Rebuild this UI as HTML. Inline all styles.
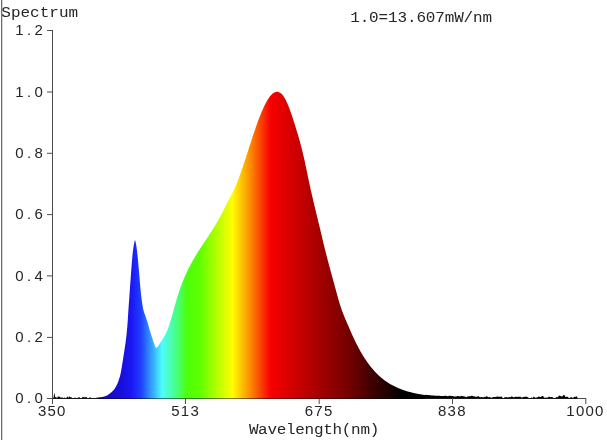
<!DOCTYPE html>
<html><head><meta charset="utf-8"><title>Spectrum</title>
<style>
html,body{margin:0;padding:0;background:#fff;}
body{width:607px;height:440px;overflow:hidden;position:relative;}
svg{position:absolute;left:0;top:0;display:block;}
text{fill:#262626;text-anchor:middle;}
text.m{font-family:"Liberation Mono",monospace;font-size:16px;}
text.d{font-family:"Liberation Sans",sans-serif;font-size:15px;}
</style></head><body>
<svg width="607" height="440" viewBox="0 0 607 440">
<defs><linearGradient id="g" gradientUnits="userSpaceOnUse" x1="52.5" y1="0" x2="586" y2="0"><stop offset="0.0000" stop-color="#000000"/><stop offset="0.0778" stop-color="#000000"/><stop offset="0.0834" stop-color="#060350"/><stop offset="0.0909" stop-color="#0e06a0"/><stop offset="0.1003" stop-color="#1209c0"/><stop offset="0.1172" stop-color="#150dd0"/><stop offset="0.1359" stop-color="#1812e2"/><stop offset="0.1490" stop-color="#1c18f6"/><stop offset="0.1659" stop-color="#1e40ff"/><stop offset="0.2051" stop-color="#4cfcff"/><stop offset="0.2390" stop-color="#48ff60"/><stop offset="0.2521" stop-color="#4cff08"/><stop offset="0.2765" stop-color="#60ff00"/><stop offset="0.3370" stop-color="#ffff00"/><stop offset="0.3683" stop-color="#fc9400"/><stop offset="0.4086" stop-color="#f80000"/><stop offset="0.4489" stop-color="#d40000"/><stop offset="0.5014" stop-color="#a40000"/><stop offset="0.5576" stop-color="#720000"/><stop offset="0.5951" stop-color="#440000"/><stop offset="0.6326" stop-color="#1c0000"/><stop offset="0.6570" stop-color="#000000"/></linearGradient></defs>
<rect x="0" y="0" width="607" height="440" fill="#fff"/>
<rect x="1" y="0" width="1" height="440" fill="#6e6e6e"/><rect x="2" y="0" width="1" height="440" fill="#d4d4d4"/>
<path d="M52.5,399.0 L52.5,398.30 L53.0,398.28 L53.5,397.71 L54.0,394.71 L54.5,392.85 L55.0,396.24 L55.5,397.46 L56.0,396.90 L56.5,397.46 L57.0,398.12 L57.5,397.45 L58.0,396.30 L58.5,396.14 L59.0,397.23 L59.5,396.72 L60.0,396.55 L60.5,397.60 L61.0,398.13 L61.5,397.52 L62.0,397.00 L62.5,397.52 L63.0,398.13 L63.5,398.18 L64.0,397.76 L64.5,397.40 L65.0,397.76 L65.5,398.18 L66.0,398.19 L66.5,397.78 L67.0,396.98 L67.5,396.50 L68.0,396.98 L68.5,397.78 L69.0,397.10 L69.5,396.30 L70.0,397.10 L70.5,397.40 L71.0,396.80 L71.5,397.40 L72.0,398.11 L72.5,398.28 L73.0,398.29 L73.5,398.24 L74.0,398.04 L74.5,397.64 L75.0,397.40 L75.5,397.64 L76.0,398.04 L76.5,398.24 L77.0,398.29 L77.5,398.26 L78.0,398.01 L78.5,397.35 L79.0,396.90 L79.5,397.35 L80.0,398.01 L80.5,398.26 L81.0,398.29 L81.5,398.20 L82.0,397.83 L82.5,397.12 L83.0,396.70 L83.5,397.12 L84.0,397.83 L84.5,397.28 L85.0,396.60 L85.5,397.28 L86.0,397.46 L86.5,396.90 L87.0,397.46 L87.5,398.12 L88.0,398.28 L88.5,398.19 L89.0,397.93 L89.5,397.52 L90.0,397.30 L90.5,397.52 L91.0,397.93 L91.5,398.19 L92.0,398.21 L92.5,398.19 L93.0,398.18 L93.5,398.15 L94.0,398.11 L94.5,398.05 L95.0,397.98 L95.5,397.89 L96.0,397.80 L96.5,397.74 L97.0,397.68 L97.5,397.62 L98.0,397.56 L98.5,397.50 L99.0,397.44 L99.5,397.37 L100.0,397.30 L100.5,397.23 L101.0,397.16 L101.5,397.09 L102.0,397.01 L102.5,396.92 L103.0,396.83 L103.5,396.72 L104.0,396.60 L104.5,396.45 L105.0,396.27 L105.5,396.08 L106.0,395.87 L106.5,395.64 L107.0,395.40 L107.5,395.14 L108.0,394.84 L108.5,394.52 L109.0,394.17 L109.5,393.80 L110.0,393.42 L110.5,393.02 L111.0,392.61 L111.5,392.19 L112.0,391.73 L112.5,391.25 L113.0,390.74 L113.5,390.18 L114.0,389.57 L114.5,388.90 L115.0,388.16 L115.5,387.36 L116.0,386.48 L116.5,385.54 L117.0,384.53 L117.5,383.45 L118.0,382.20 L118.5,380.81 L119.0,379.32 L119.5,377.78 L120.0,376.15 L120.5,374.11 L121.0,371.48 L121.5,368.58 L122.0,365.66 L122.5,362.62 L123.0,359.48 L123.5,356.26 L124.0,352.98 L124.5,349.69 L125.0,346.46 L125.5,343.09 L126.0,339.32 L126.5,334.94 L127.0,329.87 L127.5,324.00 L128.0,316.42 L128.5,308.53 L129.0,301.48 L129.5,294.59 L130.0,287.52 L130.5,280.42 L131.0,273.69 L131.5,267.03 L132.0,260.64 L132.5,255.07 L133.0,250.69 L133.5,247.01 L134.0,244.01 L134.5,241.38 L135.0,239.90 L135.5,241.38 L136.0,244.01 L136.5,247.06 L137.0,250.76 L137.5,254.96 L138.0,260.04 L138.5,265.72 L139.0,271.58 L139.5,277.30 L140.0,283.38 L140.5,289.25 L141.0,294.06 L141.5,298.19 L142.0,301.98 L142.5,305.32 L143.0,308.12 L143.5,310.30 L144.0,312.03 L144.5,313.49 L145.0,314.83 L145.5,316.21 L146.0,317.71 L146.5,319.22 L147.0,320.73 L147.5,322.29 L148.0,323.94 L148.5,325.74 L149.0,327.62 L149.5,329.46 L150.0,331.16 L150.5,332.76 L151.0,334.29 L151.5,335.80 L152.0,337.30 L152.5,338.84 L153.0,340.40 L153.5,341.92 L154.0,343.33 L154.5,344.62 L155.0,346.02 L155.5,347.24 L156.0,347.88 L156.5,347.79 L157.0,347.41 L157.5,346.87 L158.0,346.30 L158.5,345.66 L159.0,344.89 L159.5,344.10 L160.0,343.33 L160.5,342.56 L161.0,341.77 L161.5,340.98 L162.0,340.17 L162.5,339.34 L163.0,338.50 L163.5,337.64 L164.0,336.82 L164.5,336.01 L165.0,335.18 L165.5,334.31 L166.0,333.37 L166.5,332.33 L167.0,331.20 L167.5,329.95 L168.0,328.60 L168.5,327.16 L169.0,325.64 L169.5,324.09 L170.0,322.49 L170.5,320.84 L171.0,319.15 L171.5,317.43 L172.0,315.69 L172.5,313.92 L173.0,312.14 L173.5,310.35 L174.0,308.56 L174.5,306.77 L175.0,304.99 L175.5,303.23 L176.0,301.49 L176.5,299.77 L177.0,298.09 L177.5,296.45 L178.0,294.85 L178.5,293.29 L179.0,291.77 L179.5,290.28 L180.0,288.83 L180.5,287.42 L181.0,286.04 L181.5,284.70 L182.0,283.39 L182.5,282.10 L183.0,280.85 L183.5,279.63 L184.0,278.43 L184.5,277.26 L185.0,276.11 L185.5,274.99 L186.0,273.89 L186.5,272.81 L187.0,271.75 L187.5,270.72 L188.0,269.69 L188.5,268.69 L189.0,267.70 L189.5,266.72 L190.0,265.76 L190.5,264.82 L191.0,263.88 L191.5,262.96 L192.0,262.05 L192.5,261.15 L193.0,260.26 L193.5,259.38 L194.0,258.51 L194.5,257.66 L195.0,256.81 L195.5,255.97 L196.0,255.14 L196.5,254.31 L197.0,253.50 L197.5,252.69 L198.0,251.89 L198.5,251.10 L199.0,250.31 L199.5,249.52 L200.0,248.74 L200.5,247.97 L201.0,247.20 L201.5,246.44 L202.0,245.68 L202.5,244.92 L203.0,244.16 L203.5,243.41 L204.0,242.65 L204.5,241.90 L205.0,241.15 L205.5,240.40 L206.0,239.65 L206.5,238.90 L207.0,238.15 L207.5,237.40 L208.0,236.64 L208.5,235.89 L209.0,235.13 L209.5,234.37 L210.0,233.60 L210.5,232.83 L211.0,232.06 L211.5,231.28 L212.0,230.50 L212.5,229.71 L213.0,228.92 L213.5,228.12 L214.0,227.31 L214.5,226.49 L215.0,225.67 L215.5,224.84 L216.0,224.00 L216.5,223.16 L217.0,222.30 L217.5,221.43 L218.0,220.55 L218.5,219.67 L219.0,218.77 L219.5,217.86 L220.0,216.93 L220.5,216.00 L221.0,215.05 L221.5,214.09 L222.0,213.12 L222.5,212.14 L223.0,211.15 L223.5,210.15 L224.0,209.15 L224.5,208.15 L225.0,207.15 L225.5,206.15 L226.0,205.15 L226.5,204.16 L227.0,203.18 L227.5,202.21 L228.0,201.26 L228.5,200.31 L229.0,199.37 L229.5,198.44 L230.0,197.51 L230.5,196.57 L231.0,195.64 L231.5,194.69 L232.0,193.73 L232.5,192.75 L233.0,191.76 L233.5,190.74 L234.0,189.70 L234.5,188.63 L235.0,187.53 L235.5,186.39 L236.0,185.22 L236.5,184.01 L237.0,182.78 L237.5,181.52 L238.0,180.23 L238.5,178.91 L239.0,177.57 L239.5,176.21 L240.0,174.82 L240.5,173.42 L241.0,172.00 L241.5,170.57 L242.0,169.12 L242.5,167.65 L243.0,166.18 L243.5,164.69 L244.0,163.19 L244.5,161.68 L245.0,160.16 L245.5,158.64 L246.0,157.11 L246.5,155.57 L247.0,154.03 L247.5,152.48 L248.0,150.94 L248.5,149.39 L249.0,147.84 L249.5,146.30 L250.0,144.75 L250.5,143.21 L251.0,141.68 L251.5,140.14 L252.0,138.62 L252.5,137.10 L253.0,135.59 L253.5,134.09 L254.0,132.60 L254.5,131.13 L255.0,129.66 L255.5,128.21 L256.0,126.78 L256.5,125.36 L257.0,123.96 L257.5,122.57 L258.0,121.21 L258.5,119.86 L259.0,118.53 L259.5,117.23 L260.0,115.95 L260.5,114.69 L261.0,113.46 L261.5,112.25 L262.0,111.07 L262.5,109.91 L263.0,108.78 L263.5,107.68 L264.0,106.61 L264.5,105.57 L265.0,104.56 L265.5,103.58 L266.0,102.64 L266.5,101.73 L267.0,100.85 L267.5,100.01 L268.0,99.20 L268.5,98.43 L269.0,97.70 L269.5,97.01 L270.0,96.36 L270.5,95.75 L271.0,95.18 L271.5,94.65 L272.0,94.16 L272.5,93.71 L273.0,93.31 L273.5,92.96 L274.0,92.64 L274.5,92.38 L275.0,92.16 L275.5,91.99 L276.0,91.86 L276.5,91.79 L277.0,91.76 L277.5,91.79 L278.0,91.86 L278.5,91.99 L279.0,92.16 L279.5,92.40 L280.0,92.68 L280.5,93.02 L281.0,93.41 L281.5,93.86 L282.0,94.37 L282.5,94.93 L283.0,95.56 L283.5,96.24 L284.0,96.97 L284.5,97.77 L285.0,98.63 L285.5,99.55 L286.0,100.53 L286.5,101.57 L287.0,102.65 L287.5,103.79 L288.0,104.97 L288.5,106.20 L289.0,107.47 L289.5,108.79 L290.0,110.14 L290.5,111.52 L291.0,112.94 L291.5,114.39 L292.0,115.87 L292.5,117.37 L293.0,118.90 L293.5,120.44 L294.0,122.01 L294.5,123.59 L295.0,125.18 L295.5,126.79 L296.0,128.40 L296.5,130.03 L297.0,131.67 L297.5,133.34 L298.0,135.02 L298.5,136.73 L299.0,138.47 L299.5,140.24 L300.0,142.05 L300.5,143.89 L301.0,145.77 L301.5,147.70 L302.0,149.67 L302.5,151.69 L303.0,153.76 L303.5,155.89 L304.0,158.07 L304.5,160.31 L305.0,162.61 L305.5,164.94 L306.0,167.31 L306.5,169.70 L307.0,172.10 L307.5,174.51 L308.0,176.92 L308.5,179.32 L309.0,181.70 L309.5,184.05 L310.0,186.37 L310.5,188.65 L311.0,190.90 L311.5,193.12 L312.0,195.31 L312.5,197.48 L313.0,199.62 L313.5,201.75 L314.0,203.86 L314.5,205.95 L315.0,208.02 L315.5,210.09 L316.0,212.15 L316.5,214.20 L317.0,216.25 L317.5,218.30 L318.0,220.35 L318.5,222.41 L319.0,224.47 L319.5,226.54 L320.0,228.61 L320.5,230.71 L321.0,232.82 L321.5,234.94 L322.0,237.06 L322.5,239.18 L323.0,241.29 L323.5,243.38 L324.0,245.44 L324.5,247.48 L325.0,249.49 L325.5,251.48 L326.0,253.45 L326.5,255.40 L327.0,257.33 L327.5,259.24 L328.0,261.14 L328.5,263.03 L329.0,264.90 L329.5,266.77 L330.0,268.62 L330.5,270.47 L331.0,272.32 L331.5,274.15 L332.0,275.99 L332.5,277.82 L333.0,279.64 L333.5,281.47 L334.0,283.29 L334.5,285.12 L335.0,286.95 L335.5,288.78 L336.0,290.62 L336.5,292.46 L337.0,294.30 L337.5,296.12 L338.0,297.93 L338.5,299.70 L339.0,301.43 L339.5,303.11 L340.0,304.74 L340.5,306.30 L341.0,307.80 L341.5,309.24 L342.0,310.64 L342.5,311.99 L343.0,313.30 L343.5,314.58 L344.0,315.82 L344.5,317.04 L345.0,318.24 L345.5,319.41 L346.0,320.58 L346.5,321.74 L347.0,322.89 L347.5,324.04 L348.0,325.20 L348.5,326.36 L349.0,327.52 L349.5,328.68 L350.0,329.83 L350.5,330.98 L351.0,332.13 L351.5,333.26 L352.0,334.39 L352.5,335.51 L353.0,336.61 L353.5,337.70 L354.0,338.77 L354.5,339.83 L355.0,340.88 L355.5,341.90 L356.0,342.92 L356.5,343.92 L357.0,344.90 L357.5,345.87 L358.0,346.83 L358.5,347.77 L359.0,348.70 L359.5,349.61 L360.0,350.51 L360.5,351.40 L361.0,352.27 L361.5,353.13 L362.0,353.97 L362.5,354.81 L363.0,355.63 L363.5,356.43 L364.0,357.23 L364.5,358.01 L365.0,358.77 L365.5,359.53 L366.0,360.27 L366.5,361.00 L367.0,361.72 L367.5,362.43 L368.0,363.13 L368.5,363.81 L369.0,364.48 L369.5,365.14 L370.0,365.79 L370.5,366.43 L371.0,367.06 L371.5,367.67 L372.0,368.28 L372.5,368.87 L373.0,369.46 L373.5,370.03 L374.0,370.60 L374.5,371.15 L375.0,371.69 L375.5,372.22 L376.0,372.75 L376.5,373.26 L377.0,373.77 L377.5,374.26 L378.0,374.75 L378.5,375.22 L379.0,375.69 L379.5,376.15 L380.0,376.60 L380.5,377.04 L381.0,377.47 L381.5,377.89 L382.0,378.31 L382.5,378.72 L383.0,379.11 L383.5,379.51 L384.0,379.89 L384.5,380.26 L385.0,380.63 L385.5,380.99 L386.0,381.35 L386.5,381.69 L387.0,382.03 L387.5,382.37 L388.0,382.69 L388.5,383.01 L389.0,383.32 L389.5,383.63 L390.0,383.93 L390.5,384.22 L391.0,384.51 L391.5,384.79 L392.0,385.07 L392.5,385.34 L393.0,385.60 L393.5,385.86 L394.0,386.11 L394.5,386.36 L395.0,386.60 L395.5,386.84 L396.0,387.08 L396.5,387.31 L397.0,387.53 L397.5,387.75 L398.0,387.97 L398.5,388.18 L399.0,388.39 L399.5,388.59 L400.0,388.79 L400.5,388.99 L401.0,389.18 L401.5,389.37 L402.0,389.56 L402.5,389.74 L403.0,389.92 L403.5,390.09 L404.0,390.27 L404.5,390.44 L405.0,390.60 L405.5,390.77 L406.0,390.93 L406.5,391.08 L407.0,391.24 L407.5,391.39 L408.0,391.54 L408.5,391.68 L409.0,391.82 L409.5,391.96 L410.0,392.10 L410.5,392.23 L411.0,392.36 L411.5,392.49 L412.0,392.62 L412.5,392.74 L413.0,392.86 L413.5,392.97 L414.0,393.09 L414.5,393.20 L415.0,393.31 L415.5,393.42 L416.0,393.52 L416.5,393.62 L417.0,393.72 L417.5,393.82 L418.0,393.91 L418.5,394.01 L419.0,394.10 L419.5,394.18 L420.0,394.27 L420.5,394.35 L421.0,394.43 L421.5,394.51 L422.0,394.59 L422.5,394.66 L423.0,394.74 L423.5,394.81 L424.0,394.88 L424.5,394.94 L425.0,395.01 L425.5,394.73 L426.0,394.79 L426.5,394.85 L427.0,394.91 L427.5,394.96 L428.0,395.01 L428.5,395.05 L429.0,395.10 L429.5,395.14 L430.0,395.17 L430.5,395.22 L431.0,395.31 L431.5,395.41 L432.0,395.44 L432.5,395.46 L433.0,395.49 L433.5,395.51 L434.0,395.51 L434.5,395.56 L435.0,395.65 L435.5,395.71 L436.0,395.76 L436.5,395.78 L437.0,395.76 L437.5,395.74 L438.0,395.77 L438.5,395.76 L439.0,395.69 L439.5,395.68 L440.0,395.80 L440.5,395.96 L441.0,396.06 L441.5,396.04 L442.0,395.95 L442.5,395.93 L443.0,395.93 L443.5,395.92 L444.0,395.88 L444.5,395.75 L445.0,395.65 L445.5,395.66 L446.0,395.73 L446.5,395.89 L447.0,396.12 L447.5,396.30 L448.0,396.31 L448.5,396.09 L449.0,395.84 L449.5,395.74 L450.0,395.76 L450.5,395.85 L451.0,395.93 L451.5,395.88 L452.0,395.89 L452.5,396.07 L453.0,396.25 L453.5,396.33 L454.0,396.39 L454.5,396.45 L455.0,396.53 L455.5,396.61 L456.0,396.58 L456.5,396.46 L457.0,396.24 L457.5,396.06 L458.0,396.05 L458.5,396.15 L459.0,396.20 L459.5,396.30 L460.0,396.44 L460.5,396.29 L461.0,395.93 L461.5,395.80 L462.0,395.97 L462.5,396.15 L463.0,396.23 L463.5,396.29 L464.0,396.37 L464.5,396.42 L465.0,396.49 L465.5,396.76 L466.0,397.14 L466.5,397.16 L467.0,396.73 L467.5,396.38 L468.0,396.36 L468.5,396.41 L469.0,396.34 L469.5,396.29 L470.0,396.26 L470.5,396.15 L471.0,396.01 L471.5,395.85 L472.0,395.71 L472.5,395.83 L473.0,396.17 L473.5,396.38 L474.0,396.28 L474.5,396.18 L475.0,396.42 L475.5,396.79 L476.0,396.88 L476.5,396.71 L477.0,396.57 L477.5,396.52 L478.0,396.37 L478.5,396.28 L479.0,396.56 L479.5,397.01 L480.0,397.21 L480.5,397.16 L481.0,397.01 L481.5,396.90 L482.0,396.90 L482.5,397.20 L483.0,397.52 L483.5,397.37 L484.0,396.97 L484.5,396.87 L485.0,397.02 L485.5,396.95 L486.0,396.53 L486.5,396.20 L487.0,396.34 L487.5,396.72 L488.0,397.10 L488.5,397.33 L489.0,397.29 L489.5,397.08 L490.0,397.04 L490.5,397.42 L491.0,397.77 L491.5,397.66 L492.0,397.40 L492.5,397.34 L493.0,397.24 L493.5,396.97 L494.0,396.88 L494.5,397.04 L495.0,397.08 L495.5,396.94 L496.0,396.84 L496.5,396.79 L497.0,396.71 L497.5,396.55 L498.0,396.49 L498.5,396.68 L499.0,396.80 L499.5,396.70 L500.0,396.68 L500.5,396.70 L501.0,396.59 L501.5,396.59 L502.0,396.97 L502.5,397.74 L503.0,398.20 L503.5,398.20 L504.0,397.71 L504.5,397.36 L505.0,397.26 L505.5,397.30 L506.0,397.25 L506.5,397.10 L507.0,397.19 L507.5,397.41 L508.0,397.46 L508.5,397.20 L509.0,396.97 L509.5,397.07 L510.0,397.23 L510.5,397.17 L511.0,396.85 L511.5,396.39 L512.0,396.32 L512.5,396.85 L513.0,397.27 L513.5,397.32 L514.0,397.29 L514.5,397.17 L515.0,396.85 L515.5,396.67 L516.0,396.85 L516.5,396.99 L517.0,396.94 L517.5,396.87 L518.0,396.72 L518.5,396.74 L519.0,396.93 L519.5,396.76 L520.0,396.52 L520.5,396.83 L521.0,397.40 L521.5,397.58 L522.0,397.39 L522.5,397.29 L523.0,397.20 L523.5,397.04 L524.0,396.94 L524.5,396.80 L525.0,396.63 L525.5,396.63 L526.0,396.75 L526.5,396.76 L527.0,396.75 L527.5,397.02 L528.0,397.46 L528.5,397.78 L529.0,398.02 L529.5,398.20 L530.0,398.20 L530.5,398.15 L531.0,397.69 L531.5,397.50 L532.0,397.80 L532.5,398.11 L533.0,397.62 L533.5,396.67 L534.0,396.51 L534.5,397.16 L535.0,397.68 L535.5,397.71 L536.0,397.55 L536.5,397.53 L537.0,397.53 L537.5,397.35 L538.0,396.89 L538.5,396.45 L539.0,396.49 L539.5,396.81 L540.0,397.01 L540.5,396.88 L541.0,396.65 L541.5,396.49 L542.0,396.16 L542.5,395.84 L543.0,395.99 L543.5,396.69 L544.0,397.44 L544.5,397.77 L545.0,397.77 L545.5,397.68 L546.0,397.51 L546.5,397.49 L547.0,397.67 L547.5,397.64 L548.0,397.25 L548.5,396.93 L549.0,396.85 L549.5,396.85 L550.0,396.97 L550.5,397.20 L551.0,397.22 L551.5,397.06 L552.0,397.00 L552.5,397.18 L553.0,397.46 L553.5,397.88 L554.0,398.20 L554.5,398.20 L555.0,398.20 L555.5,398.07 L556.0,397.29 L556.5,397.02 L557.0,397.18 L557.5,397.20 L558.0,396.88 L558.5,396.28 L559.0,395.73 L559.5,395.52 L560.0,395.67 L560.5,396.07 L561.0,396.31 L561.5,396.41 L562.0,396.54 L562.5,396.30 L563.0,395.59 L563.5,395.01 L564.0,394.86 L564.5,395.20 L565.0,396.15 L565.5,397.01 L566.0,397.10 L566.5,396.81 L567.0,396.64 L567.5,396.76 L568.0,397.04 L568.5,397.50 L569.0,398.15 L569.5,398.20 L570.0,397.99 L570.5,397.29 L571.0,396.98 L571.5,397.18 L572.0,397.52 L572.5,397.80 L573.0,397.89 L573.5,397.46 L574.0,396.79 L574.5,396.78 L575.0,397.09 L575.5,396.89 L576.0,396.45 L576.5,396.26 L577.0,396.64 L577.5,397.78 L578.0,398.40 L578.5,398.40 L579.0,398.40 L579.5,398.40 L580.0,398.40 L580.5,398.40 L581.0,398.40 L581.5,398.40 L582.0,398.40 L582.5,398.40 L583.0,398.40 L583.5,398.40 L584.0,398.40 L584.5,398.40 L585.0,398.40 L585.5,398.40 L585.5,399.0 Z" fill="url(#g)"/>

<g stroke="#4c4c4c" stroke-width="1" fill="none">
<path d="M52.5,30 V398.5 M577,398.5 H586"/>
<path d="M52,398.5 H97 M425,398.5 H577.5" stroke="#161616"/>
<path d="M97,398.5 H425" stroke="#000" stroke-opacity="0.5"/>
<path d="M47,30.5 H53 M47,92 H53 M47,153.3 H53 M47,214.6 H53 M47,275.9 H53 M47,337.4 H53 M47,398.5 H53"/>
<path d="M52.5,398 V404 M185.5,399 V404 M319.2,399 V404 M452.5,398 V404 M585.8,398 V404"/>
</g>
<text class="m" transform="translate(0,16.60) scale(1,0.87)" x="6.1 15.7 25.3 34.9 44.5 54.1 63.7 73.3">Spectrum</text>
<text class="m" transform="translate(0,22.30) scale(1,0.87)" x="355.0 364.5 373.9 383.4 392.8 402.3 411.7 421.2 430.6 440.1 449.5 459.0 468.4 477.9 487.3">1.0=13.607mW/nm</text>
<text class="d" transform="translate(0,35.10) scale(1,0.95)" x="19.4 29.0 38.6">1.2</text>
<text class="d" transform="translate(0,96.60) scale(1,0.95)" x="19.4 29.0 38.6">1.0</text>
<text class="d" transform="translate(0,157.90) scale(1,0.95)" x="19.4 29.0 38.6">0.8</text>
<text class="d" transform="translate(0,219.20) scale(1,0.95)" x="19.4 29.0 38.6">0.6</text>
<text class="d" transform="translate(0,280.50) scale(1,0.95)" x="19.4 29.0 38.6">0.4</text>
<text class="d" transform="translate(0,342.00) scale(1,0.95)" x="19.4 29.0 38.6">0.2</text>
<text class="d" transform="translate(0,403.10) scale(1,0.95)" x="19.4 29.0 38.6">0.0</text>
<text class="d" transform="translate(0,416.30) scale(1,0.95)" x="42.1 51.7 61.3">350</text>
<text class="d" transform="translate(0,416.30) scale(1,0.95)" x="175.4 185.0 194.6">513</text>
<text class="d" transform="translate(0,416.30) scale(1,0.95)" x="308.9 318.5 328.1">675</text>
<text class="d" transform="translate(0,416.30) scale(1,0.95)" x="442.1 451.7 461.3">838</text>
<text class="d" transform="translate(0,416.30) scale(1,0.95)" x="570.5 580.1 589.7 599.3">1000</text>
<text class="m" transform="translate(0,434.30) scale(1,0.87)" x="253.7 262.9 272.2 281.6 290.9 300.1 309.4 318.8 328.1 337.4 346.6 355.9 365.2 374.6">Wavelength(nm)</text>
</svg>
</body></html>
